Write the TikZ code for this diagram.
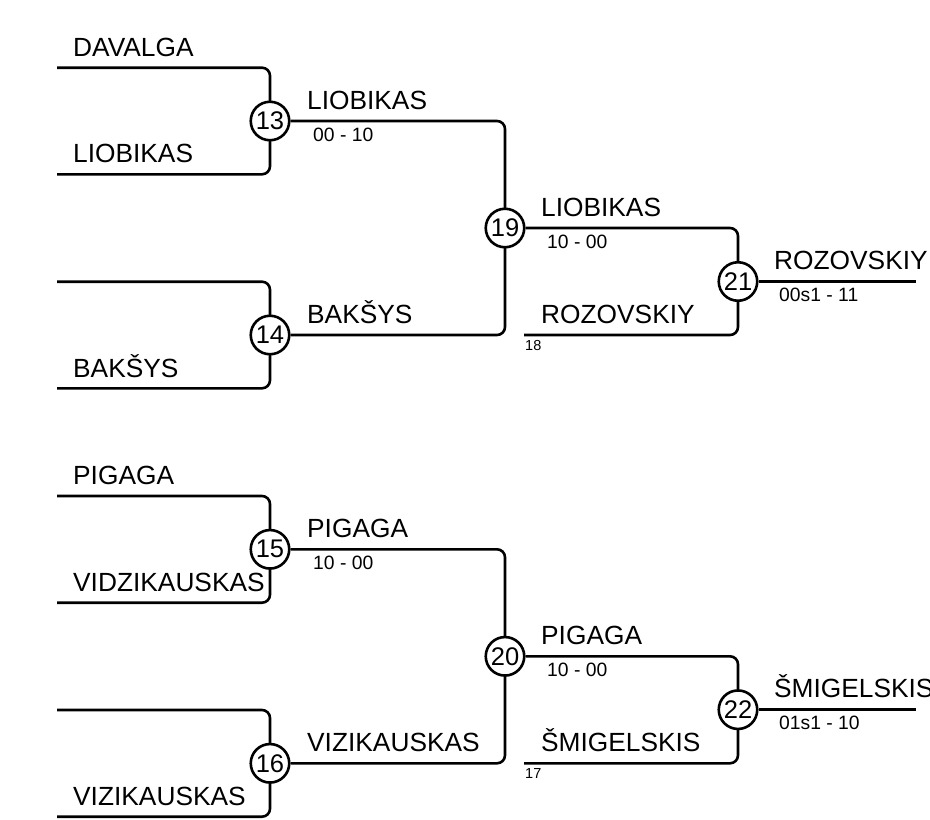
\documentclass[tikz,border=0pt]{standalone}
\usepackage{fontspec}
\setmainfont{Liberation Sans}
\begin{document}
\begin{tikzpicture}[x=1pt,y=-1pt,
  wire/.style={line width=2.6pt,rounded corners=8pt},
  match/.style={circle,draw,line width=2.6pt,fill=white,minimum size=38.5pt,inner sep=0pt,font=\fontsize{25.5}{25.5}\selectfont},
  player/.style={anchor=base west,inner sep=0pt,font=\fontsize{26.3}{26.3}\selectfont},
  score/.style={anchor=base west,inner sep=0pt,font=\fontsize{19.3}{19.3}\selectfont},
  seed/.style={anchor=base west,inner sep=0pt,font=\fontsize{14.5}{14.5}\selectfont}]
\useasboundingbox (0,0) rectangle (930,820);
% round 1 start points
\coordinate (s13a) at (57,67.7);
\coordinate (s13b) at (57,174.3);
\coordinate (s14a) at (57,281.7);
\coordinate (s14b) at (57,388.3);
\coordinate (s15a) at (57,496);
\coordinate (s15b) at (57,602.7);
\coordinate (s16a) at (57,710);
\coordinate (s16b) at (57,816.7);
\coordinate (f18) at (524,335);
\coordinate (f17) at (524,763.3);
\coordinate (e21) at (916,281.5);
\coordinate (e22) at (916,709.7);
% lines
\draw[wire] (s13a) -| (270,121);
\draw[wire] (s13b) -| (270,121);
\draw[wire] (s14a) -| (270,335);
\draw[wire] (s14b) -| (270,335);
\draw[wire] (s15a) -| (270,549.3);
\draw[wire] (s15b) -| (270,549.3);
\draw[wire] (s16a) -| (270,763.3);
\draw[wire] (s16b) -| (270,763.3);
\node[match] (m13) at (270,121) {13};
\node[match] (m14) at (270,335) {14};
\node[match] (m15) at (270,549.3) {15};
\node[match] (m16) at (270,763.3) {16};
\draw[wire] (m13.east) -| (505,228);
\draw[wire] (m14.east) -| (505,228);
\draw[wire] (m15.east) -| (505,656.3);
\draw[wire] (m16.east) -| (505,656.3);
\node[match] (m19) at (505,228) {19};
\node[match] (m20) at (505,656.3) {20};
\draw[wire] (m19.east) -| (738,281.5);
\draw[wire] (f18) -| (738,281.5);
\draw[wire] (m20.east) -| (738,709.7);
\draw[wire] (f17) -| (738,709.7);
\node[match] (m21) at (738,281.5) {21};
\node[match] (m22) at (738,709.7) {22};
\draw[wire] (m21.east) -- (e21);
\draw[wire] (m22.east) -- (e22);
% names round 1
\node[player] (n1) at (73,56.2) {DAVALGA};
\node[player] (n2) at (73,162.8) {LIOBIKAS};
\node[player] (n3) at (73,377) {BAKŠYS};
\node[player] (n4) at (73,484.5) {PIGAGA};
\node[player] (n5) at (73,591.2) {VIDZIKAUSKAS};
\node[player] (n6) at (73,805.2) {VIZIKAUSKAS};
% round 2
\node[player] (n7) at (307,109.5) {LIOBIKAS};
\node[score] (c7) at (313,141) {00 - 10};
\node[player] (n8) at (307,323.5) {BAKŠYS};
\node[player] (n9) at (307,537.8) {PIGAGA};
\node[score] (c9) at (313,569.3) {10 - 00};
\node[player] (n10) at (307,751.8) {VIZIKAUSKAS};
% round 3
\node[player] (n11) at (541,216.5) {LIOBIKAS};
\node[score] (c11) at (547,248) {10 - 00};
\node[player] (n12) at (541,323.5) {ROZOVSKIY};
\node[seed] (d18) at (525,350) {18};
\node[player] (n13) at (541,644.8) {PIGAGA};
\node[score] (c13) at (547,676.3) {10 - 00};
\node[player] (n14) at (541,751.8) {ŠMIGELSKIS};
\node[seed] (d17) at (525,778.3) {17};
% final
\node[player] (n15) at (774,269) {ROZOVSKIY};
\node[score] (c15) at (779,301) {00s1 - 11};
\node[player] (n16) at (774,697.2) {ŠMIGELSKIS};
\node[score] (c16) at (779,729.2) {01s1 - 10};
\end{tikzpicture}
\end{document}
